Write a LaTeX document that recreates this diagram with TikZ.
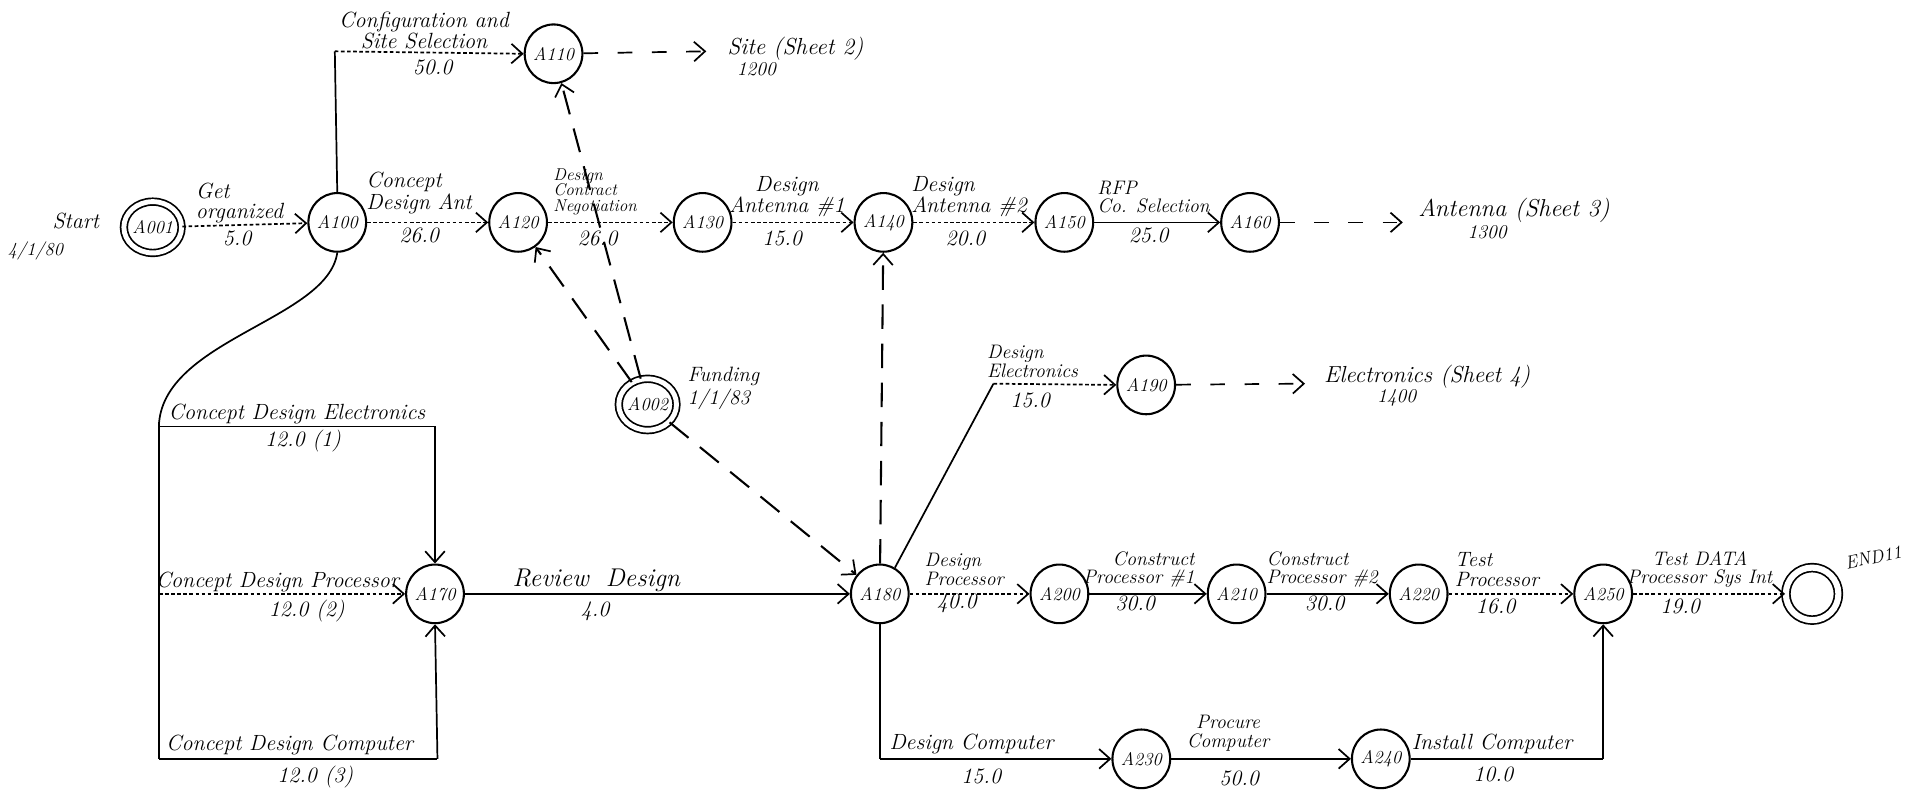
\documentclass[tikz,border=0pt]{standalone}
\usetikzlibrary{arrows.meta,shapes.geometric}
\begin{document}
\begin{tikzpicture}[x=1pt,y=-1pt,
  ev/.style={draw, ellipse, line width=1.7pt, minimum width=44pt, minimum height=48pt, inner sep=0pt, font=\fontsize{15}{15}\selectfont\itshape},
  dev/.style={ev, double, double distance=4pt, line width=1.4pt, minimum width=42pt, minimum height=42pt},
  lab/.style={font=\fontsize{18}{16}\selectfont\itshape, inner sep=0pt},
  tip/.style={-{Straight Barb[length=9pt,width=16pt,line width=1.4pt]}},
  act/.style={line width=1.4pt, tip},
  dotact/.style={act, dash pattern=on 3pt off 2pt},
  dummy/.style={line width=1.7pt, dash pattern=on 20pt off 12pt, tip},
  cont/.style={line width=1.4pt, dash pattern=on 12pt off 16pt, tip},
  plain/.style={line width=1.4pt}]
\useasboundingbox (0,0) rectangle (1568,646);
\fill[white] (0,0) rectangle (1568,646);

% events
\node[dev] (A001) at (125,186) {A001};
\node[ev] (A100) at (276,182) {A100};
\node[ev] (A110) at (453,44) {A110};
\node[ev] (A120) at (424,182) {A120};
\node[ev] (A130) at (575,182) {A130};
\node[ev] (A140) at (723,182) {A140};
\node[ev] (A150) at (871,182) {A150};
\node[ev] (A160) at (1023,182) {A160};
\node[dev] (A002) at (530,331) {A002};
\node[ev] (A190) at (938,315) {A190};
\node[ev] (A170) at (356,486) {A170};
\node[ev] (A180) at (720,486) {A180};
\node[ev] (A200) at (867,486) {A200};
\node[ev] (A210) at (1012,486) {A210};
\node[ev] (A220) at (1161,486) {A220};
\node[ev] (A250) at (1312,486) {A250};
\node[ev] (A230) at (934,621) {A230};
\node[ev] (A240) at (1130,621) {A240};
\node[draw, circle, line width=1.4pt, double, double distance=5pt, minimum size=43pt] (END) at (1483,486) {};

% free ends / bend points
\coordinate (cfg) at (274,42);
\coordinate (busT) at (130,349);
\coordinate (busM) at (130,486);
\coordinate (busB) at (130,621);
\coordinate (elT) at (356,349);
\coordinate (cpB) at (358,621);
\coordinate (elB) at (813,314);
\coordinate (dcB) at (720,621);
\coordinate (icB) at (1312,621);
\coordinate (siteE) at (578,42);
\coordinate (antE) at (1148,182);
\coordinate (elecE) at (1068,314);

% texts
\node[lab] (tStart) at (62,181) {Start};
\node[lab, font=\fontsize{15}{15}\selectfont\itshape] (tStartD) at (29,205) {4/1/80};
\node[lab, align=left, font=\fontsize{17}{19}\selectfont\itshape] (tFund) at (592,318) {Funding\\1/1/83};
\node[lab, rotate=12, font=\fontsize{15}{15}\selectfont\itshape] (tEnd) at (1533,456) {END11};
\node[lab, font=\fontsize{19}{19}\selectfont\itshape] (tSite) at (651,40) {Site (Sheet 2)};
\node[lab, font=\fontsize{16}{16}\selectfont\itshape] (tSiteN) at (619,57) {1200};
\node[lab, font=\fontsize{20}{20}\selectfont\itshape] (tAnt) at (1239,172) {Antenna (Sheet 3)};
\node[lab, font=\fontsize{16}{16}\selectfont\itshape] (tAntN) at (1217,190) {1300};
\node[lab, font=\fontsize{19}{19}\selectfont\itshape] (tElec) at (1168,308) {Electronics (Sheet 4)};
\node[lab, font=\fontsize{16}{16}\selectfont\itshape] (tElecN) at (1143,326) {1400};

% activities
\draw[dotact] (A001) -- (A100);
\node[lab, align=left] (lGet) at (196,166) {Get\\organized};
\node[lab] (vGet) at (194,195) {5.0};

\draw[plain] (A100.north) -- (cfg);
\draw[dotact] (cfg) -- (A110.west);
\node[lab, align=center, font=\fontsize{18}{17}\selectfont\itshape] (lCfg) at (347,25) {Configuration and\\Site Selection};
\node[lab] (vCfg) at (354,55) {50.0};

\draw[cont] (A110) -- (siteE);

\draw[dotact] (A100) -- (A120);
\node[lab, align=left] (lCDA) at (343,158) {Concept\\Design Ant};
\node[lab] (vCDA) at (343,193) {26.0};

\draw[dotact] (A120) -- (A130);
\node[lab, align=left, font=\fontsize{14}{13}\selectfont\itshape] (lDCN) at (487,157) {Design\\Contract\\Negotiation};
\node[lab] (vDCN) at (489,195) {26.0};

\draw[dotact] (A130) -- (A140);
\node[lab, align=center] (lDA1) at (644,161) {Design\\Antenna \#1};
\node[lab] (vDA1) at (640,195) {15.0};

\draw[dotact] (A140) -- (A150);
\node[lab, align=left] (lDA2) at (793,161) {Design\\Antenna \#2};
\node[lab] (vDA2) at (790,195) {20.0};

\draw[act] (A150) -- (A160);
\node[lab, align=left, font=\fontsize{16}{15}\selectfont\itshape] (lRFP) at (944,161) {RFP\\Co. Selection};
\node[lab] (vRFP) at (940,193) {25.0};

\draw[cont] (A160) -- (antE);

% left bus
\draw[plain] (A100.south) .. controls (268,262) and (132,278) .. (busT);
\draw[plain] (busT) -- (busB);
\draw[plain] (busT) -- (elT);
\draw[act] (elT) -- (A170.north);
\node[lab] (lCDE) at (243,339) {Concept Design Electronics};
\node[lab] (vCDE) at (248,361) {12.0 (1)};
\draw[dotact] (busM) -- (A170.west);
\node[lab] (lCDP) at (227,476) {Concept Design Processor};
\node[lab] (vCDP) at (251,500) {12.0 (2)};
\draw[plain] (busB) -- (cpB);
\draw[act] (cpB) -- (A170.south);
\node[lab] (lCDC) at (237,610) {Concept Design Computer};
\node[lab] (vCDC) at (258,636) {12.0 (3)};

\draw[act] (A170) -- (A180);
\node[lab, font=\fontsize{21}{21}\selectfont\itshape] (lRD) at (488,475) {Review\hspace{14pt}Design};
\node[lab] (vRD) at (487,500) {4.0};

% dummies
\draw[dummy] (A002) -- (A110);
\draw[dummy] (A002) -- (A120);
\draw[dummy] (A002) -- (A180);
\draw[dummy] (A180) -- (A140);

% electronics
\draw[plain] (A180.60) -- (elB);
\draw[dotact] (elB) -- (A190.west);
\node[lab, align=left, font=\fontsize{16}{15.5}\selectfont\itshape] (lDE) at (845,296) {Design\\Electronics};
\node[lab] (vDE) at (843,328) {15.0};
\draw[cont] (A190) -- (elecE);

% processor chain
\draw[dotact] (A180) -- (A200);
\node[lab, align=left, font=\fontsize{16}{15}\selectfont\itshape] (lDP) at (789,466) {Design\\Processor};
\node[lab] (vDP) at (783,494) {40.0};

\draw[act] (A200) -- (A210);
\node[lab, align=right, font=\fontsize{16}{15}\selectfont\itshape] (lCP1) at (932,466) {Construct\\Processor \#1};
\node[lab] (vCP1) at (929,494) {30.0};

\draw[act] (A210) -- (A220);
\node[lab, align=left, font=\fontsize{16}{15}\selectfont\itshape] (lCP2) at (1082,466) {Construct\\Processor \#2};
\node[lab] (vCP2) at (1084,494) {30.0};

\draw[dotact] (A220) -- (A250);
\node[lab, align=left, font=\fontsize{17}{16}\selectfont\itshape] (lTP) at (1225,466) {Test\\Processor};
\node[lab] (vTP) at (1224,496) {16.0};

\draw[dotact] (A250) -- (END);
\node[lab, align=center, font=\fontsize{16}{15}\selectfont\itshape] (lTD) at (1391,466) {Test DATA\\Processor Sys Int};
\node[lab] (vTD) at (1375,496) {19.0};

% computer chain
\draw[plain] (A180.south) -- (dcB);
\draw[act] (dcB) -- (A230.west);
\node[lab] (lDC) at (795,609) {Design Computer};
\node[lab] (vDC) at (803,635) {15.0};

\draw[act] (A230) -- (A240);
\node[lab, align=center, font=\fontsize{16}{15}\selectfont\itshape] (lPC) at (1005,600) {Procure\\Computer};
\node[lab] (vPC) at (1014,637) {50.0};

\draw[plain] (A240.east) -- (icB);
\draw[act] (icB) -- (A250.south);
\node[lab] (lIC) at (1221,609) {Install Computer};
\node[lab] (vIC) at (1222,634) {10.0};
\end{tikzpicture}
\end{document}
